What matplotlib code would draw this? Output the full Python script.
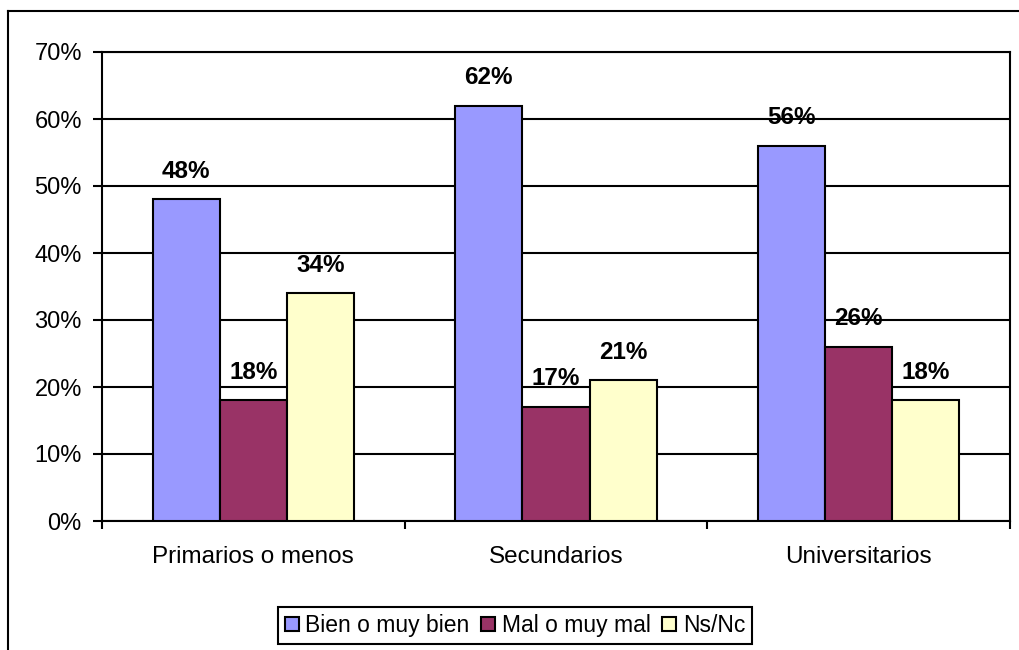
import matplotlib.pyplot as plt
import numpy as np
from matplotlib.lines import Line2D

plt.rcParams['font.family'] = ['Liberation Sans', 'DejaVu Sans']

categories = ['Primarios o menos', 'Secundarios', 'Universitarios']
series = ['Bien o muy bien', 'Mal o muy mal', 'Ns/Nc']
bien = [48, 62, 56]
mal = [18, 17, 26]
nsnc = [34, 21, 18]
colors = ['#9999FF', '#993366', '#FFFFCC']

fig = plt.figure(figsize=(10.19, 6.5), dpi=100)
ax = fig.add_axes([102 / 1019, 1 - 521 / 650, 908 / 1019, 469 / 650])

x = np.arange(len(categories))
width = 0.222
for j, (vals, name) in enumerate(zip([bien, mal, nsnc], series)):
    pos = x + (j - 1) * width
    bars = ax.bar(pos, vals, width, color=colors[j], edgecolor='black',
                  linewidth=1.5, label=name, zorder=3)
    for b, v in zip(bars, vals):
        ax.annotate('{}%'.format(v), (b.get_x() + b.get_width() / 2, v),
                    xytext=(0, 12), textcoords='offset points',
                    ha='center', va='bottom', fontsize=17.5,
                    fontweight='bold', zorder=4)

ax.set_xlim(-0.5, 2.5)
ax.set_ylim(0, 70)
ax.set_yticks(np.arange(0, 71, 10))
ax.set_yticklabels(['{}%'.format(t) for t in range(0, 71, 10)], fontsize=17)
ax.yaxis.grid(True, color='black', linewidth=1.5, zorder=0)
ax.tick_params(axis='y', direction='out', length=6.5, width=1.5, pad=8)

ax.set_xticks([-0.5, 0.5, 1.5, 2.5])
ax.set_xticklabels([])
ax.set_xticks(x, minor=True)
ax.set_xticklabels(categories, minor=True, fontsize=17.5)
ax.tick_params(axis='x', which='major', direction='out', length=6, width=1.5)
ax.tick_params(axis='x', which='minor', length=0, pad=18)

for s in ax.spines.values():
    s.set_color('black')
    s.set_linewidth(1.5)

# outer chart border
fig.add_artist(Line2D([8 / 1019, 8 / 1019], [0, 1 - 11 / 650],
                      transform=fig.transFigure, color='black', linewidth=1.5))
fig.add_artist(Line2D([8 / 1019, 1.0], [1 - 11 / 650, 1 - 11 / 650],
                      transform=fig.transFigure, color='black', linewidth=1.5))

leg = fig.legend(loc='center', bbox_to_anchor=(515 / 1019, 1 - 625.5 / 650),
                 ncol=3, fontsize=16.5, fancybox=False, edgecolor='black',
                 handlelength=0.6, handleheight=0.6, handletextpad=0.3,
                 columnspacing=0.5, borderpad=0.3, borderaxespad=0)
leg.get_frame().set_linewidth(1.5)
leg.get_frame().set_alpha(1)

fig.savefig('out.png', dpi=100)
